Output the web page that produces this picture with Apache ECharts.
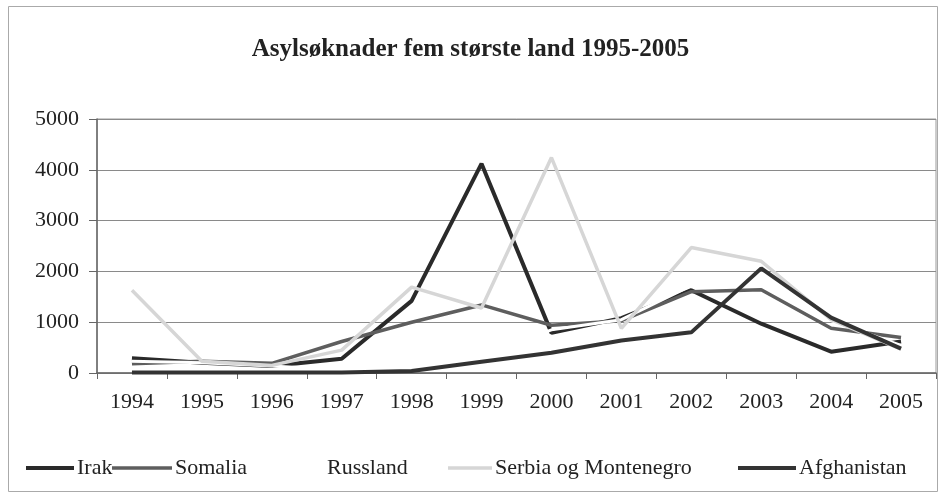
<!DOCTYPE html>
<html>
<head>
<meta charset="utf-8">
<script src="https://cdn.jsdelivr.net/npm/echarts@6/dist/echarts.min.js"></script>
<style>html,body{margin:0;padding:0;background:#fff}#c{width:941px;height:497px}</style>
</head>
<body>
<div id="c"></div>
<script>
const years = ['1994','1995','1996','1997','1998','1999','2000','2001','2002','2003','2004','2005'];
const yTicks = [0, 1000, 2000, 3000, 4000, 5000];
const irak        = [290, 200, 140, 280, 1420, 4120, 790, 1080, 1630, 970, 420, 620];
const somalia     = [180, 230, 190, 620, 1000, 1340, 940, 1030, 1600, 1640, 880, 700];
const russland    = [230, 200, 140, 60, 100, 350, 850, 1050, 1720, 1920, 1030, 545];
const serbia      = [1630, 230, 150, 450, 1690, 1280, 4240, 880, 2470, 2200, 1050, 470];
const afghanistan = [10, 10, 10, 10, 40, 220, 400, 640, 800, 2060, 1090, 480];

const names = ['Irak', 'Somalia', 'Russland', 'Serbia og Montenegro', 'Afghanistan'];
const values = [irak, somalia, russland, serbia, afghanistan];
const colors = ['#2a2a2a', '#5e5e5e', '#ffffff', '#d6d6d6', '#333333'];
const widths = [4, 3.5, 3, 3.5, 4];
const legendLeft = [26, 112, 280, 448, 738];
const legendIconW = [48, 60, 44, 44, 58];

const font = "'Liberation Serif', 'Times New Roman', serif";
const chart = echarts.init(document.getElementById('c'), null, {renderer: 'canvas'});

const legends = names.map((n, i) => ({
  data: [n],
  left: legendLeft[i],
  top: 457,
  icon: 'rect',
  itemWidth: legendIconW[i],
  itemHeight: widths[i],
  itemGap: 0,
  padding: 0,
  textStyle: {fontFamily: font, fontSize: 22, color: '#222', padding: [0, 0, 0, -2]}
}));

chart.setOption({
  backgroundColor: '#fff',
  animation: false,
  title: {
    text: 'Asylsøknader fem største land 1995-2005',
    left: 'center',
    top: 32,
    textStyle: {fontFamily: font, fontSize: 25, fontWeight: 'bold', color: '#222'}
  },
  legend: legends,
  graphic: [{
    type: 'rect', silent: true, z: -1,
    shape: {x: 8.5, y: 6.5, width: 929, height: 485},
    style: {fill: 'none', stroke: '#aaaaaa', lineWidth: 1}
  }],
  grid: {left: 97, right: 5, top: 119, bottom: 124, show: true, borderColor: '#9a9a9a', borderWidth: 1, backgroundColor: 'transparent'},
  xAxis: {
    type: 'category',
    data: years,
    boundaryGap: true,
    axisLine: {lineStyle: {color: '#666', width: 1.5}},
    axisTick: {show: true, length: 6, lineStyle: {color: '#666'}},
    axisLabel: {fontFamily: font, fontSize: 22, color: '#222', margin: 18}
  },
  yAxis: {
    type: 'value',
    min: yTicks[0],
    max: yTicks[yTicks.length - 1],
    interval: 1000,
    axisLine: {show: true, lineStyle: {color: '#666', width: 1.5}},
    axisTick: {show: true, length: 8, lineStyle: {color: '#666'}},
    axisLabel: {fontFamily: font, fontSize: 22, color: '#222', margin: 18, formatter: v => String(v)},
    splitLine: {lineStyle: {color: '#8a8a8a', width: 1.2}}
  },
  series: names.map((n, i) => ({
    name: n,
    type: 'line',
    data: values[i],
    symbol: 'none',
    color: colors[i],
    lineStyle: {color: colors[i], width: widths[i]},
    itemStyle: {color: colors[i]},
    z: 2 + i
  }))
});
</script>
</body>
</html>
